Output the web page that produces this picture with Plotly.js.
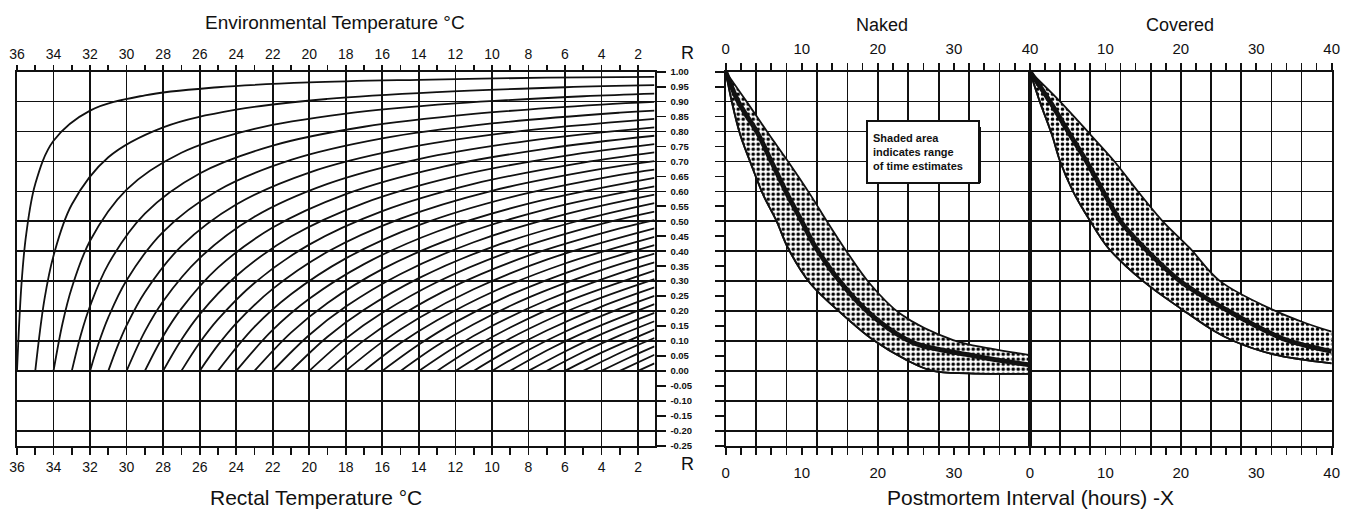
<!DOCTYPE html>
<html><head><meta charset="utf-8">
<script src="https://cdn.plot.ly/plotly-3.0.1.min.js"></script>
<style>html,body{margin:0;padding:0;background:#fff}#chart{width:1357px;height:512px}</style>
</head><body><div id="chart"></div>
<script>
// ---------- Left nomogram: one curve per rectal temperature (°C) ----------
const rectalTemps = [36,35,34,33,32,31,30,29,28,27,26,25,24,23,22,21,20,19,18,17,16,15,14,13,12,11,10,9,8,7,6,5,4,3,2];
// environmental temperature (x)
const curveEnv = [
 [36,35.75,35.5,35,34,32,29,25,20,14,7,1.1],
 [35,34.5,34,33,31,28,24,19,13,6,1.1],
 [34,33.5,33,32,30,27,23,18,12,5,1.1],
 [33,32.5,32,31,29,26,22,17,11,4,1.1],
 [32,31.5,31,30,28,25,21,16,10,3,1.1],
 [31,30.5,30,29,27,24,20,15,9,1.1],
 [30,29,28,26,23,19,14,8,1.1],
 [29,28,27,25,22,18,13,7,1.1],
 [28,27,26,24,21,17,12,6,1.1],
 [27,26,25,23,20,16,11,5,1.1],
 [26,25,24,22,19,15,10,4,1.1],
 [25,23,21,18,14,9,3,1.1],
 [24,22,20,17,13,8,1.1],
 [23,21,19,16,12,7,1.1],
 [22,20,18,15,11,6,1.1],
 [21,19,17,14,10,5,1.1],
 [20,18,16,13,9,4,1.1],
 [19,17,15,12,8,3,1.1],
 [18,16,14,11,7,1.1],
 [17,15,13,10,6,1.1],
 [16,14,12,9,5,1.1],
 [15,13,11,8,4,1.1],
 [14,12,10,7,3,1.1],
 [13,11,9,6,1.1],
 [12,10,8,5,1.1],
 [11,9,7,4,1.1],
 [10,8,6,3,1.1],
 [9,7,5,1.1],
 [8,6,4,1.1],
 [7,5,3,1.1],
 [6,4,1.1],
 [5,3,1.1],
 [4,2.5,1.1],
 [3,1.1],
 [2,1.1]
];
// R value
const curveR = [
 [0,0.294,0.455,0.625,0.769,0.870,0.921,0.948,0.964,0.973,0.980,0.983],
 [0,0.238,0.385,0.556,0.714,0.814,0.873,0.909,0.932,0.948,0.955],
 [0,0.161,0.278,0.435,0.606,0.729,0.809,0.860,0.894,0.918,0.927],
 [0,0.122,0.217,0.357,0.526,0.660,0.753,0.816,0.859,0.890,0.899],
 [0,0.098,0.179,0.303,0.465,0.603,0.705,0.777,0.827,0.863,0.870],
 [0,0.082,0.152,0.263,0.417,0.556,0.663,0.741,0.797,0.842],
 [0,0.132,0.233,0.377,0.515,0.625,0.708,0.769,0.814],
 [0,0.116,0.208,0.345,0.479,0.591,0.678,0.743,0.786],
 [0,0.104,0.189,0.317,0.449,0.561,0.650,0.719,0.758],
 [0,0.094,0.172,0.294,0.422,0.534,0.625,0.696,0.730],
 [0,0.086,0.159,0.274,0.398,0.509,0.602,0.675,0.701],
 [0,0.147,0.256,0.376,0.487,0.580,0.655,0.673],
 [0,0.137,0.241,0.357,0.466,0.559,0.645],
 [0,0.128,0.227,0.340,0.447,0.541,0.617],
 [0,0.120,0.215,0.324,0.430,0.523,0.589],
 [0,0.114,0.204,0.310,0.414,0.506,0.561],
 [0,0.108,0.194,0.297,0.399,0.491,0.532],
 [0,0.102,0.185,0.285,0.385,0.476,0.504],
 [0,0.097,0.177,0.273,0.372,0.476],
 [0,0.093,0.169,0.263,0.359,0.448],
 [0,0.088,0.163,0.254,0.348,0.420],
 [0,0.085,0.156,0.245,0.337,0.392],
 [0,0.081,0.150,0.236,0.327,0.363],
 [0,0.078,0.145,0.229,0.335],
 [0,0.075,0.140,0.222,0.307],
 [0,0.072,0.135,0.215,0.279],
 [0,0.070,0.131,0.208,0.251],
 [0,0.068,0.127,0.223],
 [0,0.065,0.123,0.194],
 [0,0.063,0.119,0.166],
 [0,0.061,0.138],
 [0,0.060,0.110],
 [0,0.044,0.082],
 [0,0.054],
 [0,0.025]
];

// ---------- Right panels: R against postmortem interval (hours) ----------
const nakedLowerH = [0,0.8,1.9,3.2,4.9,6.7,8.2,11.1,15.2,19.4,23.8,27.2,32,40];
const nakedLowerR = [1.0,0.9,0.79,0.7,0.59,0.5,0.41,0.293,0.192,0.103,0.036,0.0,-0.008,-0.01];
const nakedMidH   = [0,1.65,4.3,6.0,8.1,10,11.9,16.3,20.2,24.6,28,31.6,36,40];
const nakedMidR   = [1.0,0.9,0.79,0.7,0.59,0.5,0.41,0.26,0.165,0.095,0.072,0.055,0.035,0.02];
const nakedUpperH = [0,2.75,5.7,8.2,11.1,13.3,15.6,18.9,22.9,29.9,34.7,40];
const nakedUpperR = [1.0,0.9,0.79,0.7,0.59,0.5,0.41,0.293,0.192,0.103,0.075,0.053];

const coveredLowerH = [0,1.3,2.9,4.0,5.7,8.0,10.4,15.0,20.3,24.3,27,32.3,40];
const coveredLowerR = [1.0,0.9,0.79,0.7,0.6,0.5,0.41,0.30,0.203,0.135,0.1,0.055,0.025];
const coveredMidH   = [0,2.65,5.3,7.5,9.7,12,15,19.9,26.1,30,34,40];
const coveredMidR   = [1.0,0.9,0.79,0.7,0.6,0.5,0.415,0.30,0.203,0.15,0.103,0.065];
const coveredUpperH = [0,4,8,11.2,14.3,17.6,21.2,25.2,32.3,36.5,40];
const coveredUpperR = [1.0,0.9,0.79,0.7,0.6,0.5,0.41,0.30,0.203,0.16,0.131];

// ---------- Tick values and labels ----------
const tempLabelVals = [36,34,32,30,28,26,24,22,20,18,16,14,12,10,8,6,4,2];
const tempLabelText = ['36','34','32','30','28','26','24','22','20','18','16','14','12','10','8','6','4','2'];
const tempMinorVals = [35,33,31,29,27,25,23,21,19,17,15,13,11,9,7,5,3];
const rTickVals = [1.00,0.95,0.90,0.85,0.80,0.75,0.70,0.65,0.60,0.55,0.50,0.45,0.40,0.35,0.30,0.25,0.20,0.15,0.10,0.05,0.00,-0.05,-0.10,-0.15,-0.20,-0.25];
const rTickText = ['1.00','0.95','0.90','0.85','0.80','0.75','0.70','0.65','0.60','0.55','0.50','0.45','0.40','0.35','0.30','0.25','0.20','0.15','0.10','0.05','0.00','-0.05','-0.10','-0.15','-0.20','-0.25'];
const rGridVals = [1.0,0.9,0.8,0.7,0.6,0.5,0.4,0.3,0.2,0.1,0.0,-0.1,-0.2];
const hourGridVals = [0,4,8,12,16,20,24,28,32,36,40];
const hourTickVals = [0,2,4,6,8,10,12,14,16,18,20,22,24,26,28,30,32,34,36,38,40];
const nakedBottomText  = ['0','','','','','10','','','','','20','','','','','30','','','','',''];
const nakedTopText     = ['0','','','','','10','','','','','20','','','','','30','','','','','40'];
const coveredBottomText= ['0','','','','','10','','','','','20','','','','','30','','','','','40'];
const coveredTopText   = ['','','','','','10','','','','','20','','','','','30','','','','','40'];

// ---------- Build traces ----------
const BLACK = '#111';
const traces = [];
rectalTemps.forEach((t, i) => {
  traces.push({type:'scatter', mode:'lines', x: curveEnv[i], y: curveR[i], xaxis:'x', yaxis:'y',
    line:{color:BLACK, width:1.8, shape:'spline', smoothing:1}, hoverinfo:'skip', showlegend:false});
});
function band(lh, lr, mh, mr, uh, ur, xa, ya) {
  const pat = {shape:'.', fgcolor:'#000', bgcolor:'#fff', size:5, solidity:0.42, fillmode:'replace'};
  traces.push({type:'scatter', mode:'lines', x: lh, y: lr, xaxis:xa, yaxis:ya,
    line:{color:BLACK, width:1.8, shape:'spline', smoothing:1}, hoverinfo:'skip', showlegend:false});
  traces.push({type:'scatter', mode:'lines', x: uh, y: ur, xaxis:xa, yaxis:ya, fill:'tonexty',
    fillcolor:'#fff', fillpattern: pat,
    line:{color:BLACK, width:1.8, shape:'spline', smoothing:1}, hoverinfo:'skip', showlegend:false});
  traces.push({type:'scatter', mode:'lines', x: lh, y: lr, xaxis:xa, yaxis:ya,
    line:{color:BLACK, width:1.8, shape:'spline', smoothing:1}, hoverinfo:'skip', showlegend:false});
  traces.push({type:'scatter', mode:'lines', x: mh, y: mr, xaxis:xa, yaxis:ya,
    line:{color:BLACK, width:4.8, shape:'spline', smoothing:1}, hoverinfo:'skip', showlegend:false});
}
band(nakedLowerH, nakedLowerR, nakedMidH, nakedMidR, nakedUpperH, nakedUpperR, 'x4', 'y3');
band(coveredLowerH, coveredLowerR, coveredMidH, coveredMidR, coveredUpperH, coveredUpperR, 'x7', 'y5');

// empty holder traces so that the extra tick axes are drawn (they draw nothing)
[['x2','y'],['x3','y'],['x','y2'],['x5','y3'],['x6','y3'],['x4','y4'],['x8','y5'],['x9','y5']].forEach(p => {
  traces.push({type:'scatter', mode:'lines', x:[null], y:[null], xaxis:p[0], yaxis:p[1], hoverinfo:'skip', showlegend:false});
});

// ---------- Layout ----------
const W = 1357, H = 512;
const px = v => v / W, py = v => 1 - v / H;
const FONT = 'Liberation Sans, Arial, Helvetica, sans-serif';
const NARROW = 'Liberation Sans Narrow, Liberation Sans, Arial, sans-serif';
const yDom = [py(445.7), py(71.7)];
const leftDom = [px(17), px(654.5)];
const nakedDom = [px(725.7), px(1030)];
const covDom = [px(1030), px(1331.7)];
const R_RANGE = [-0.25, 1.0];
const T_RANGE = [36, 1.1];
const H_RANGE = [0, 40];

const base = {fixedrange:true, zeroline:false, linecolor:BLACK, linewidth:2, gridcolor:BLACK, gridwidth:1.7,
  tickcolor:BLACK, tickwidth:1.7, autorange:false};
const gridAxis = (extra) => Object.assign({}, base, {tickmode:'array', showgrid:true, ticks:'', showticklabels:false, showline:true, mirror:true}, extra);
const tickAxis = (extra) => Object.assign({}, base, {tickmode:'array', showgrid:false, showline:false, ticks:'outside'}, extra);

const tempAllVals = tempLabelVals.concat(tempMinorVals);
const tempAllText = tempLabelText.concat(tempMinorVals.map(() => ''));

const ann = (text, x, y, size, family, extra) => Object.assign({text, xref:'paper', yref:'paper', x:px(x), y:py(y),
  xanchor:'center', yanchor:'middle', showarrow:false, font:{size, family, color:BLACK}}, extra || {});

const layout = {
  width: W, height: H, margin:{l:0, r:0, t:0, b:0}, paper_bgcolor:'#fff', plot_bgcolor:'rgba(0,0,0,0)',
  showlegend:false, font:{family:FONT, color:BLACK},
  // left panel
  xaxis: gridAxis({domain:leftDom, anchor:'y', range:T_RANGE, tickvals:tempLabelVals}),
  xaxis2: tickAxis({overlaying:'x', anchor:'y', side:'bottom', range:T_RANGE, tickvals:tempAllVals, ticktext:tempAllText, ticklen:8,
    tickfont:{family:NARROW, size:14, color:BLACK}, ticklabelstandoff:0}),
  xaxis3: tickAxis({overlaying:'x', anchor:'y', side:'top', range:T_RANGE, tickvals:tempAllVals, ticktext:tempAllText, ticklen:6,
    tickfont:{family:NARROW, size:14, color:BLACK}, ticklabelstandoff:0}),
  yaxis: gridAxis({domain:yDom, anchor:'x', range:R_RANGE, tickvals:rGridVals}),
  yaxis2: tickAxis({overlaying:'y', anchor:'x', side:'right', range:R_RANGE, tickvals:rTickVals, ticktext:rTickText, ticklen:10,
    tickfont:{family:FONT, size:9.5, color:BLACK, weight:'bold'}, ticklabelstandoff:3}),
  // naked panel
  xaxis4: gridAxis({domain:nakedDom, anchor:'y3', range:H_RANGE, tickvals:hourGridVals}),
  xaxis5: tickAxis({overlaying:'x4', anchor:'y3', side:'bottom', range:H_RANGE, tickvals:hourTickVals, ticktext:nakedBottomText, ticklen:8,
    tickfont:{family:FONT, size:15, color:BLACK}, ticklabelstandoff:5}),
  xaxis6: tickAxis({overlaying:'x4', anchor:'y3', side:'top', range:H_RANGE, tickvals:hourTickVals, ticktext:nakedTopText, ticklen:8,
    tickfont:{family:FONT, size:15, color:BLACK}, ticklabelstandoff:3}),
  yaxis3: gridAxis({domain:yDom, anchor:'x4', range:R_RANGE, tickvals:rGridVals}),
  yaxis4: tickAxis({overlaying:'y3', anchor:'x4', side:'left', range:R_RANGE, tickvals:rTickVals, ticklen:10, showticklabels:false}),
  // covered panel
  xaxis7: gridAxis({domain:covDom, anchor:'y5', range:H_RANGE, tickvals:hourGridVals}),
  xaxis8: tickAxis({overlaying:'x7', anchor:'y5', side:'bottom', range:H_RANGE, tickvals:hourTickVals, ticktext:coveredBottomText, ticklen:8,
    tickfont:{family:FONT, size:15, color:BLACK}, ticklabelstandoff:5}),
  xaxis9: tickAxis({overlaying:'x7', anchor:'y5', side:'top', range:H_RANGE, tickvals:hourTickVals, ticktext:coveredTopText, ticklen:8,
    tickfont:{family:FONT, size:15, color:BLACK}, ticklabelstandoff:3}),
  yaxis5: gridAxis({domain:yDom, anchor:'x7', range:R_RANGE, tickvals:rGridVals}),
  shapes: [
    // drop shadow of the note box
    {type:'rect', xref:'paper', yref:'paper', x0:px(871), x1:px(981), y0:py(183), y1:py(127), fillcolor:BLACK, line:{width:0}, layer:'above'}
  ],
  annotations: [
    ann('Environmental Temperature °C', 335, 22, 19, FONT),
    ann('Rectal Temperature °C', 316, 497, 21, FONT),
    ann('Naked', 882, 25, 18, FONT),
    ann('Covered', 1180, 25, 18, FONT),
    ann('Postmortem Interval (hours) -X', 1030, 497, 21, FONT),
    ann('R', 687, 53, 18, NARROW),
    ann('R', 687, 464, 18, NARROW),
    ann('Shaded area<br>indicates range<br>of time estimates', 923, 152, 11, FONT,
      {align:'left', bgcolor:'#fff', bordercolor:BLACK, borderwidth:2, borderpad:5, width:100, height:50,
       font:{size:11, family:FONT, color:BLACK, weight:'bold'}})
  ]
};

Plotly.newPlot('chart', traces, layout, {staticPlot:true, displayModeBar:false});
</script></body></html>
